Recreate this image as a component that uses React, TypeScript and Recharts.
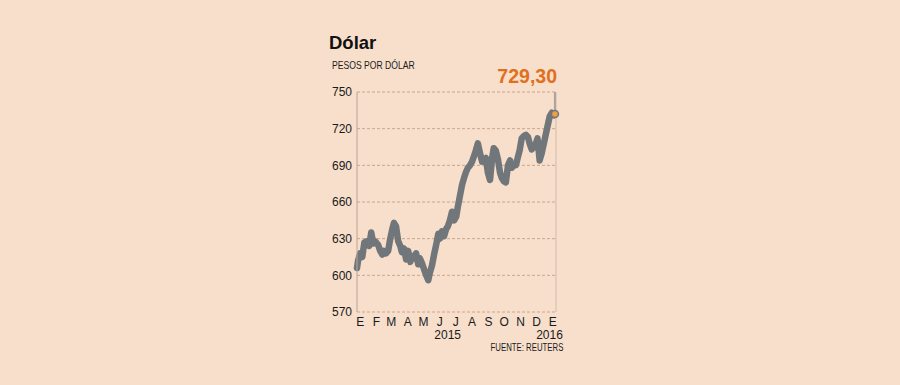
import React from 'react';
import { LineChart, Line, XAxis, YAxis, CartesianGrid, ReferenceLine, ReferenceDot } from 'recharts';

// days counted from 1 Jan 2015
const days = [
  -6, -4, 0, 4, 8, 13, 17, 21, 25, 28, 34, 38, 42, 45, 49, 53, 57, 61, 64, 68,
  72, 76, 79, 83, 87, 91, 95, 98, 102, 106, 110, 113, 117, 121, 125, 129, 132, 136, 140, 144,
  148, 151, 155, 159, 163, 166, 170, 174, 178, 182, 185, 189, 193, 197, 200, 204, 208, 212, 216, 219,
  223, 227, 231, 234, 238, 242, 246, 250, 253, 257, 261, 265, 268, 272, 276, 280, 284, 287, 291, 295,
  299, 302, 306, 310, 314, 318, 321, 325, 329, 333, 336, 340, 344, 348, 352, 355, 359, 363, 367, 369,
];
const values = [
  606, 612, 618, 615, 627, 628, 624, 635, 626, 628, 625, 620, 617, 620, 618, 620, 630, 638, 643, 640,
  628, 624, 619, 622, 613, 620, 611, 616, 614, 618, 609, 614, 610, 605, 600, 596, 602, 608, 617, 625,
  634, 630, 636, 632, 638, 640, 645, 652, 645, 648, 656, 665, 674, 680, 684, 688, 690, 693, 698, 702,
  708, 700, 693, 695, 696, 684, 678, 696, 704, 702, 695, 684, 680, 677, 676, 690, 694, 688, 690, 690,
  697, 702, 712, 714, 715, 713, 708, 703, 705, 708, 712, 694, 700, 708, 716, 722, 730, 733, 731, 732,
];
const monthTicks = [0, 31, 59, 90, 120, 151, 181, 212, 243, 273, 304, 334, 365];
const monthLabels = ['E', 'F', 'M', 'A', 'M', 'J', 'J', 'A', 'S', 'O', 'N', 'D', 'E'];
const yTicks = [570, 600, 630, 660, 690, 720, 750];
const lastLabel = '729,30';

const data = days.map((d, i) => ({ day: d, value: values[i] }));
const last = data[data.length - 1];

const font = '"Liberation Sans", Arial, sans-serif';

const MonthTick = (props: any) => {
  const { x, y, payload } = props;
  const idx = monthTicks.indexOf(payload.value);
  return (
    <g>
      <text x={x} y={y + 12} textAnchor="middle" fontSize={12} fill="#1a1a1a" fontFamily={font}>
        {monthLabels[idx]}
      </text>
      {payload.value === 181 && (
        <text x={x - 8} y={y + 25} textAnchor="middle" fontSize={12} fill="#1a1a1a" fontFamily={font}>2015</text>
      )}
      {payload.value === 365 && (
        <text x={x + 10} y={y + 25} textAnchor="end" fontSize={12} fill="#1a1a1a" fontFamily={font}>2016</text>
      )}
    </g>
  );
};

export default function App() {
  return (
    <div style={{ position: 'absolute', left: 0, top: 0, width: 900, height: 385, background: '#f8dfcb', fontFamily: font, lineHeight: 1 }}>
      <div style={{ position: 'absolute', left: 329, top: 34, fontSize: 18.5, fontWeight: 700, color: '#111' }}>
        Dólar
      </div>
      <div style={{ position: 'absolute', left: 332, top: 59.5, fontSize: 10.5, color: '#1a1a1a', transform: 'scaleX(0.82)', transformOrigin: 'left top', whiteSpace: 'nowrap' }}>
        PESOS POR DÓLAR
      </div>
      <div style={{ position: 'absolute', right: 900 - 557, top: 67, fontSize: 19.5, fontWeight: 700, color: '#e0701e' }}>
        {lastLabel}
      </div>
      <div style={{ position: 'absolute', right: 900 - 563, top: 343, fontSize: 10, color: '#1a1a1a', transform: 'scaleX(0.78)', transformOrigin: 'right top', whiteSpace: 'nowrap' }}>
        FUENTE: REUTERS
      </div>
      <div style={{ position: 'absolute', left: 0, top: 0 }}>
        <LineChart width={900} height={385} data={data} margin={{ top: 92, right: 344, bottom: 0, left: 0 }}>
          <CartesianGrid vertical={false} stroke="#c9a58e" strokeDasharray="3 2" />
          <XAxis
            dataKey="day"
            type="number"
            domain={[-6, 371]}
            ticks={monthTicks}
            tick={<MonthTick />}
            tickLine={false}
            axisLine={false}
            tickSize={0}
            height={73}
            interval={0}
          />
          <YAxis
            type="number"
            domain={[570, 750]}
            ticks={yTicks}
            width={357}
            tickSize={0}
            tickMargin={5}
            tickLine={false}
            axisLine={{ stroke: '#b8a497', strokeWidth: 1 }}
            tick={{ fontSize: 12, fill: '#1a1a1a', fontFamily: font }}
          />
          <ReferenceLine x={371} stroke="#cdbcae" strokeWidth={1} />
          <ReferenceLine segment={[{ x: last.day, y: 750 }, { x: last.day, y: last.value }]} stroke="#a9a39d" strokeWidth={2} />
          <Line
            type="linear"
            dataKey="value"
            stroke="#71767a"
            strokeWidth={6.5}
            strokeLinejoin="round"
            strokeLinecap="round"
            dot={false}
            isAnimationActive={false}
          />
          <ReferenceDot x={last.day} y={last.value} r={3.5} fill="#f0a040" stroke="#71767a" strokeWidth={1.5} />
        </LineChart>
      </div>
    </div>
  );
}
